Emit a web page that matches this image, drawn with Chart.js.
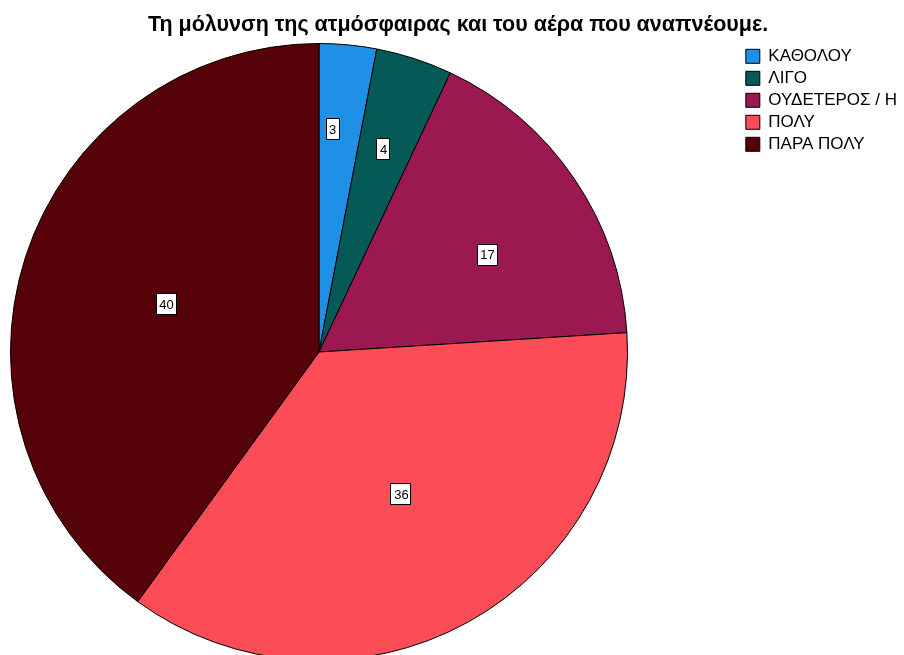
<!DOCTYPE html>
<html>
<head>
<meta charset="utf-8">
<script src="https://cdn.jsdelivr.net/npm/chart.js@4"></script>
<style>
  html, body { margin: 0; padding: 0; background: #fff; overflow: hidden; }
  #wrap { width: 904px; height: 655px; position: relative; }
</style>
</head>
<body>
<div id="wrap"><canvas id="pie"></canvas></div>
<script>
// chart data
var titel = "Τη μόλυνση της ατμόσφαιρας και του αέρα που αναπνέουμε."
var categories = ["ΚΑΘΟΛΟΥ", "ΛΙΓΟ", "ΟΥΔΕΤΕΡΟΣ / Η", "ΠΟΛΥ", "ΠΑΡΑ ΠΟΛΥ"]
var waarden = [3, 4, 17, 36, 40]
var kleuren = ["#1e90e6", "#055a57", "#9b1950", "#fc4c58", "#550308"]

// label placement inside each slice (fraction of radius, angle nudge in rad)
var labelRadius = [0.725, 0.69, 0.63, 0.53, 0.52]
var labelNudge = [-0.035, -0.01, 0.07, -0.02, -0.01]

// put the pie where it sits in the original, legend stays on the right
var pieArea = {
    id: "pieArea",
    afterLayout: function(chart) {
        var a = chart.chartArea
        a.left = 10; a.right = 628; a.top = 43; a.bottom = 661
        a.width = a.right - a.left
        a.height = a.bottom - a.top
    }
}

var boxLabels = {
    id: "boxLabels",
    afterDatasetsDraw: function(chart) {
        var ctx = chart.ctx
        var meta = chart.getDatasetMeta(0)
        ctx.save()
        ctx.font = "13px 'Liberation Sans', Arial, sans-serif"
        ctx.textAlign = "center"
        ctx.textBaseline = "middle"
        meta.data.forEach(function(arc, i) {
            var p = arc.getProps(["x", "y", "startAngle", "endAngle", "outerRadius"], true)
            var hoek = (p.startAngle + p.endAngle) / 2 + labelNudge[i]
            var r = p.outerRadius * labelRadius[i]
            var x = p.x + Math.cos(hoek) * r
            var y = p.y + Math.sin(hoek) * r
            var tekst = String(waarden[i])
            var w = ctx.measureText(tekst).width + 6
            var h = 21
            ctx.fillStyle = "#ffffff"
            ctx.fillRect(Math.round(x - w / 2) + 0.5, Math.round(y - h / 2) + 0.5, Math.round(w), h)
            ctx.strokeStyle = "#000000"
            ctx.lineWidth = 1
            ctx.strokeRect(Math.round(x - w / 2) + 0.5, Math.round(y - h / 2) + 0.5, Math.round(w), h)
            ctx.fillStyle = "#000000"
            ctx.fillText(tekst, Math.round(x) + 0.5, Math.round(y) + 1)
        })
        ctx.restore()
    }
}

var canvas = document.getElementById("pie")
var myPie = new Chart(canvas, {
    type: "pie",
    data: {
        labels: categories,
        datasets: [{
            data: waarden,
            backgroundColor: kleuren,
            borderColor: "#000000",
            borderWidth: 1,
            clip: false
        }]
    },
    options: {
        responsive: true,
        maintainAspectRatio: false,
        animation: false,
        layout: { padding: { left: 9, right: -3, top: 0, bottom: 0 } },
        plugins: {
            title: {
                display: true,
                text: titel,
                color: "#000000",
                font: { family: "'Liberation Sans', Arial, sans-serif", size: 21.5, weight: "bold" },
                padding: { top: 12, bottom: 5 }
            },
            legend: {
                position: "right",
                align: "start",
                fullSize: false,
                labels: {
                    color: "#000000",
                    font: { family: "'Liberation Sans', Arial, sans-serif", size: 17 },
                    boxWidth: 14,
                    boxHeight: 14,
                    padding: 5
                }
            },
            tooltip: { enabled: false }
        }
    },
    plugins: [pieArea, boxLabels]
})
</script>
</body>
</html>
